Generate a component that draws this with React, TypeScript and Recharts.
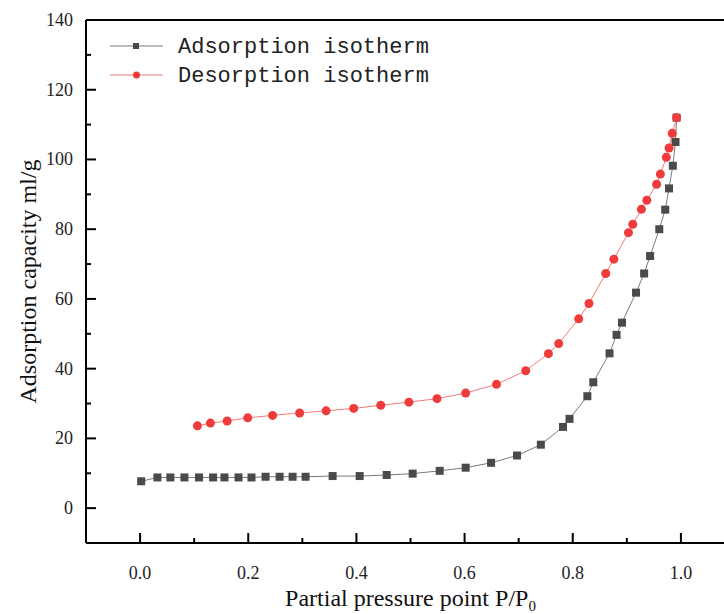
import { ComposedChart, Line, XAxis, YAxis, Legend, ReferenceLine } from "recharts"

// relative pressure P/P0 and uptake (ml/g), adsorption branch
const adsX = [
  0.002, 0.032, 0.056, 0.082, 0.109, 0.135, 0.156, 0.182, 0.206, 0.232, 0.258, 0.282, 0.306,
  0.356, 0.406, 0.456, 0.504, 0.554, 0.602, 0.649, 0.697, 0.741, 0.782, 0.794, 0.827, 0.838,
  0.868, 0.881, 0.891, 0.917, 0.932, 0.943, 0.96, 0.971, 0.978, 0.985, 0.99, 0.992,
]
const adsY = [
  7.7, 8.8, 8.8, 8.8, 8.8, 8.8, 8.8, 8.8, 8.8, 9.0, 9.0, 9.0, 9.0,
  9.2, 9.2, 9.5, 9.9, 10.7, 11.6, 13.0, 15.1, 18.2, 23.3, 25.6, 32.1, 36.1,
  44.4, 49.7, 53.2, 61.8, 67.3, 72.3, 80.0, 85.6, 91.7, 98.2, 105.0, 112.0,
]

// desorption branch
const desX = [
  0.106, 0.13, 0.161, 0.199, 0.245, 0.295, 0.344, 0.395, 0.445, 0.497, 0.549, 0.602, 0.659,
  0.713, 0.755, 0.774, 0.811, 0.83, 0.861, 0.876, 0.903, 0.911, 0.927, 0.937, 0.955, 0.962,
  0.973, 0.978, 0.984, 0.992,
]
const desY = [
  23.6, 24.4, 25.0, 25.9, 26.6, 27.3, 27.9, 28.6, 29.5, 30.4, 31.4, 33.0, 35.5,
  39.4, 44.3, 47.2, 54.3, 58.7, 67.3, 71.4, 79.0, 81.4, 85.7, 88.3, 92.9, 95.8,
  100.6, 103.3, 107.5, 112.0,
]

const xTicks = [0, 0.1, 0.2, 0.3, 0.4, 0.5, 0.6, 0.7, 0.8, 0.9, 1.0]
const yTicks = [0, 10, 20, 30, 40, 50, 60, 70, 80, 90, 100, 110, 120, 130, 140]

const adsorption = adsX.map((x, i) => ({ x, y: adsY[i] }))
const desorption = desX.map((x, i) => ({ x, y: desY[i] }))

const GRAY_DOT = "#4a4a4a"
const GRAY_LINE = "#7a7a7a"
const RED_DOT = "#ef3b3b"
const RED_LINE = "#f47a7a"
const SERIF = "'Liberation Serif', 'Times New Roman', serif"

const XTick = ({ x, y, payload }: any) => {
  const v = payload.value
  const major = Math.round(v * 10) % 2 === 0
  return (
    <g>
      <line x1={x} y1={y} x2={x} y2={y - (major ? 10 : 5)} stroke="#000" strokeWidth={2} />
      {major && (
        <text x={x} y={y + 36} textAnchor="middle" fontSize={18} fontFamily={SERIF} fill="#222">
          {v.toFixed(1)}
        </text>
      )}
    </g>
  )
}

const YTick = ({ x, y, payload }: any) => {
  const v = payload.value
  const major = v % 20 === 0
  return (
    <g>
      <line x1={x} y1={y} x2={x + (major ? 10 : 5)} y2={y} stroke="#000" strokeWidth={2} />
      {major && (
        <text x={x - 13} y={y + 6} textAnchor="end" fontSize={18} fontFamily={SERIF} fill="#222">
          {v}
        </text>
      )}
    </g>
  )
}

// axis titles (the x title carries a subscript)
const XTitle = ({ viewBox }: any) => (
  <text
    x={viewBox.x + viewBox.width / 2}
    y={606}
    textAnchor="middle"
    fontSize={24}
    fontFamily={SERIF}
    fill="#111"
  >
    Partial pressure point P/P
    <tspan fontSize={15} dy={5}>0</tspan>
  </text>
)

const YTitle = ({ viewBox }: any) => {
  const cy = viewBox.y + viewBox.height / 2
  return (
    <text
      x={36}
      y={cy}
      transform={`rotate(-90 36 ${cy})`}
      textAnchor="middle"
      fontSize={24}
      fontFamily={SERIF}
      fill="#111"
    >
      Adsorption capacity ml/g
    </text>
  )
}

const SquareDot = ({ cx, cy, index }: any) => (
  <rect key={`sq-${index}`} x={cx - 4} y={cy - 4} width={8} height={8} fill={GRAY_DOT} />
)

const RoundDot = ({ cx, cy, index }: any) => (
  <circle key={`ci-${index}`} cx={cx} cy={cy} r={4.5} fill={RED_DOT} />
)

const LegendBox = () => {
  const rows = [
    { name: "Adsorption isotherm", line: GRAY_LINE, dot: GRAY_DOT, square: true },
    { name: "Desorption isotherm", line: RED_LINE, dot: RED_DOT, square: false },
  ]
  return (
    <svg width={360} height={64}>
      {rows.map((r, i) => {
        const cy = 14 + i * 29
        return (
          <g key={r.name}>
            <line x1={0} y1={cy} x2={53} y2={cy} stroke={r.line} strokeWidth={1} />
            {r.square ? (
              <rect x={23} y={cy - 3} width={6} height={6} fill={r.dot} />
            ) : (
              <circle cx={26.5} cy={cy} r={3.5} fill={r.dot} />
            )}
            <text x={68} y={cy + 7} fontSize={22} fontFamily="'Liberation Mono', monospace" fill="#222">
              {r.name}
            </text>
          </g>
        )
      })}
    </svg>
  )
}

export default function App() {
  // pinned to the viewport corner so the page never scrolls; the frame's
  // right side (P/P0 = 1.1) sits just past the clipped edge
  return (
    <div
      style={{
        position: "fixed",
        left: 0,
        top: 0,
        width: 724,
        height: 614,
        overflow: "hidden",
        background: "#fff",
      }}
    >
      <ComposedChart width={735} height={614} margin={{ top: 20, right: 0, left: 0, bottom: 0 }}>
        <XAxis
          dataKey="x"
          type="number"
          domain={[-0.1, 1.1]}
          ticks={xTicks}
          tick={<XTick />}
          tickSize={0}
          tickMargin={0}
          height={71}
          axisLine={{ stroke: "#000", strokeWidth: 2 }}
          allowDataOverflow
          label={<XTitle />}
        />
        <YAxis
          dataKey="y"
          type="number"
          domain={[-10, 140]}
          ticks={yTicks}
          tick={<YTick />}
          tickSize={0}
          tickMargin={0}
          width={86}
          axisLine={{ stroke: "#000", strokeWidth: 2 }}
          allowDataOverflow
          label={<YTitle />}
        />
        <ReferenceLine y={140} stroke="#000" strokeWidth={2} />
        <Legend
          layout="vertical"
          align="center"
          verticalAlign="middle"
          content={<LegendBox />}
          wrapperStyle={{ top: 32, left: 110, width: 360 }}
        />
        <Line
          data={adsorption}
          dataKey="y"
          name="Adsorption isotherm"
          type="linear"
          stroke={GRAY_LINE}
          strokeWidth={1}
          dot={<SquareDot />}
          activeDot={false}
          isAnimationActive={false}
        />
        <Line
          data={desorption}
          dataKey="y"
          name="Desorption isotherm"
          type="linear"
          stroke={RED_LINE}
          strokeWidth={1}
          dot={<RoundDot />}
          activeDot={false}
          isAnimationActive={false}
        />
      </ComposedChart>
    </div>
  )
}
